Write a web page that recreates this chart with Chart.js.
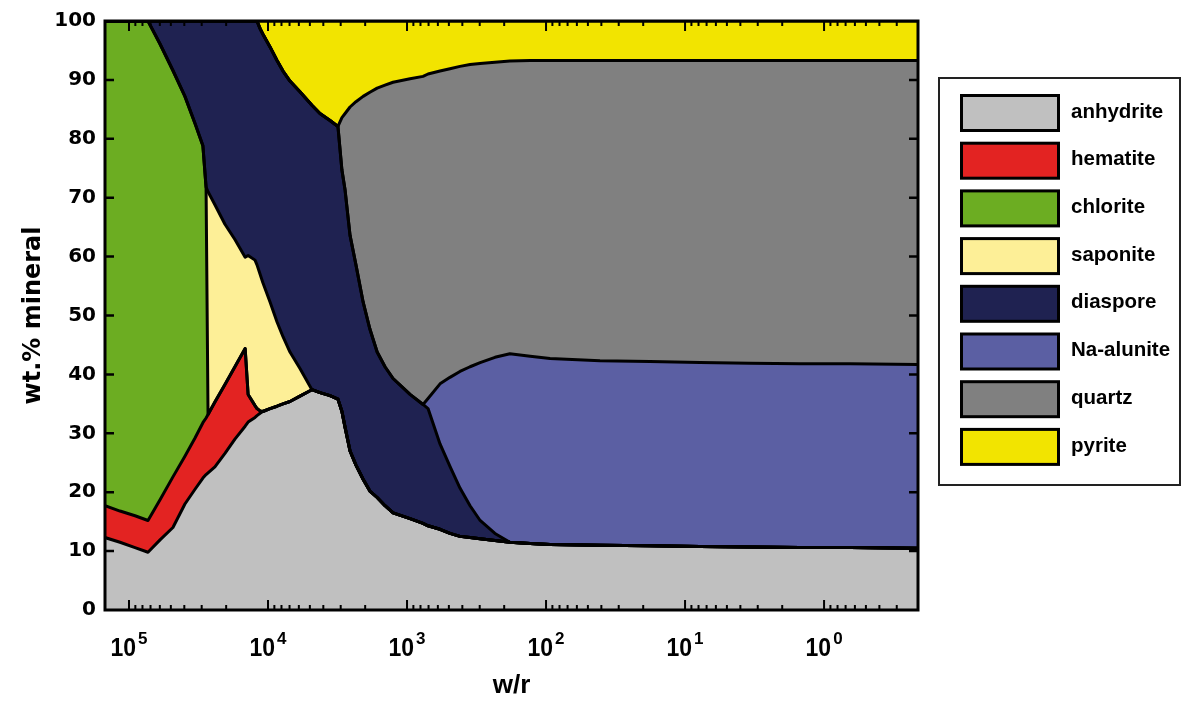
<!DOCTYPE html>
<html>
<head>
<meta charset="utf-8">
<script src="https://cdn.jsdelivr.net/npm/chart.js@4.4.1/dist/chart.umd.min.js"></script>
<style>
  html, body { margin: 0; padding: 0; background: #fff; }
  canvas { display: block; }
</style>
</head>
<body>
<canvas id="c" width="1188" height="701"></canvas>
<script>
// w/r values (x axis, logarithmic, reversed)
const wr = [1.488e5, 1.161e5, 9.05e4, 7.30e4, 5.98e4, 4.83e4, 3.96e4, 3.35e4, 2.94e4, 2.79e4,
            2.70e4, 2.41e4, 2.04e4, 1.73e4, 1.46e4, 1.39e4, 1.24e4, 1.20e4, 1.14e4, 1.09e4,
            9670, 8610, 7800, 6950, 5890, 4830, 4230, 3580, 3140, 2940,
            2790, 2570, 2330, 2070, 1850, 1640, 1440, 1260, 951, 767,
            706, 579, 491, 416, 352, 298, 233, 182, 130, 93.6,
            40.9, 17.9, 7.80, 3.41, 1.49, 0.650, 0.211];

// Cumulative upper boundary of each mineral (wt.%)
const anhydriteTop = [12.3, 11.5, 10.6, 9.8, 11.9, 14.0, 18.0, 20.5, 22.4, 23.0,
                      23.3, 24.3, 26.6, 29.0, 31.2, 31.9, 32.7, 33.0, 33.4, 33.7,
                      34.2, 34.6, 35.0, 35.4, 36.3, 37.4, 36.9, 36.4, 35.8, 33.7,
                      31.0, 27.0, 24.6, 22.2, 20.2, 19.1, 17.7, 16.5, 15.5, 14.7,
                      14.3, 13.7, 13.0, 12.5, 12.3, 12.1, 11.8, 11.5, 11.3, 11.1,
                      11.0, 10.9, 10.8, 10.7, 10.6, 10.6, 10.5];
const hematiteTop  = [17.7, 16.8, 16.0, 15.2, 18.7, 22.6, 26.1, 29.2, 31.8, 32.6,
                      33.2, 35.3, 38.3, 41.3, 44.4, 36.6, 34.7, 34.2, 33.8, 33.7,
                      34.2, 34.6, 35.0, 35.4, 36.3, 37.4, 36.9, 36.4, 35.8, 33.7,
                      31.0, 27.0, 24.6, 22.2, 20.2, 19.1, 17.7, 16.5, 15.5, 14.7,
                      14.3, 13.7, 13.0, 12.5, 12.3, 12.1, 11.8, 11.5, 11.3, 11.1,
                      11.0, 10.9, 10.8, 10.7, 10.6, 10.6, 10.5];
const chloriteTop  = [100, 100, 100, 100, 96.1, 91.6, 87.2, 82.6, 78.8, 71.8,
                      33.2, 35.3, 38.3, 41.3, 44.4, 36.6, 34.7, 34.2, 33.8, 33.7,
                      34.2, 34.6, 35.0, 35.4, 36.3, 37.4, 36.9, 36.4, 35.8, 33.7,
                      31.0, 27.0, 24.6, 22.2, 20.2, 19.1, 17.7, 16.5, 15.5, 14.7,
                      14.3, 13.7, 13.0, 12.5, 12.3, 12.1, 11.8, 11.5, 11.3, 11.1,
                      11.0, 10.9, 10.8, 10.7, 10.6, 10.6, 10.5];
const saponiteTop  = [100, 100, 100, 100, 96.1, 91.6, 87.2, 82.6, 78.8, 71.8,
                      71.0, 68.8, 65.5, 62.9, 59.9, 60.2, 59.4, 58.6, 57.0, 55.6,
                      52.3, 48.9, 46.4, 43.8, 41.0, 37.4, 36.9, 36.4, 35.8, 33.7,
                      31.0, 27.0, 24.6, 22.2, 20.2, 19.1, 17.7, 16.5, 15.5, 14.7,
                      14.3, 13.7, 13.0, 12.5, 12.3, 12.1, 11.8, 11.5, 11.3, 11.1,
                      11.0, 10.9, 10.8, 10.7, 10.6, 10.6, 10.5];
const diasporeTop  = [100, 100, 100, 100, 100, 100, 100, 100, 100, 100,
                      100, 100, 100, 100, 100, 100, 100, 100, 98.7, 97.8,
                      95.6, 93.3, 91.5, 89.8, 88.0, 85.7, 84.3, 83.1, 82.1, 74.7,
                      71.3, 63.6, 58.6, 52.3, 47.7, 43.8, 41.3, 39.3, 36.6, 34.9,
                      34.2, 28.2, 24.4, 20.7, 17.7, 15.2, 13.0, 11.5, 11.3, 11.1,
                      11.0, 10.9, 10.8, 10.7, 10.6, 10.6, 10.5];
const naAluniteTop = [100, 100, 100, 100, 100, 100, 100, 100, 100, 100,
                      100, 100, 100, 100, 100, 100, 100, 100, 98.7, 97.8,
                      95.6, 93.3, 91.5, 89.8, 88.0, 85.7, 84.3, 83.1, 82.1, 74.7,
                      71.3, 63.6, 58.6, 52.3, 47.7, 43.8, 41.3, 39.3, 36.6, 34.9,
                      35.9, 38.4, 39.5, 40.5, 41.3, 42.0, 42.9, 43.5, 43.1, 42.7,
                      42.3, 42.2, 42.0, 41.9, 41.8, 41.8, 41.7];
const quartzTop    = [100, 100, 100, 100, 100, 100, 100, 100, 100, 100,
                      100, 100, 100, 100, 100, 100, 100, 100, 98.7, 97.8,
                      95.6, 93.3, 91.5, 89.8, 88.0, 85.7, 84.3, 83.1, 82.1, 83.6,
                      84.3, 85.4, 86.3, 87.2, 87.9, 88.6, 89.1, 89.6, 90.2, 90.6,
                      91.0, 91.5, 91.9, 92.3, 92.6, 92.8, 93.0, 93.2, 93.3, 93.3,
                      93.3, 93.3, 93.3, 93.3, 93.3, 93.3, 93.3];
const pyriteTop    = [100, 100, 100, 100, 100, 100, 100, 100, 100, 100,
                      100, 100, 100, 100, 100, 100, 100, 100, 100, 100,
                      100, 100, 100, 100, 100, 100, 100, 100, 100, 100,
                      100, 100, 100, 100, 100, 100, 100, 100, 100, 100,
                      100, 100, 100, 100, 100, 100, 100, 100, 100, 100,
                      100, 100, 100, 100, 100, 100, 100];

const mineralNames = ['anhydrite', 'hematite', 'chlorite', 'saponite', 'diaspore', 'Na-alunite', 'quartz', 'pyrite'];
const mineralColors = ['#c0c0c0', '#e32322', '#6cad22', '#fdef97', '#1f2251', '#5b5fa3', '#808080', '#f2e400'];
const boundaries = [anhydriteTop, hematiteTop, chloriteTop, saponiteTop, diasporeTop, naAluniteTop, quartzTop, pyriteTop];

const xMajorTicks = [1e5, 1e4, 1e3, 1e2, 1e1, 1e0];
const xMajorExponents = ['5', '4', '3', '2', '1', '0'];
const xMin = 0.211, xMax = 1.488e5;

const datasets = boundaries.map((arr, i) => ({
  label: mineralNames[i],
  data: wr.map((x, j) => ({ x: x, y: arr[j] })),
  backgroundColor: mineralColors[i],
  borderColor: '#000',
  borderWidth: 3,
  borderJoinStyle: 'round',
  pointRadius: 0,
  tension: 0,
  fill: i === 0 ? 'origin' : '-1'
}));

const decorPlugin = {
  id: 'decor',
  afterDatasetsDraw(chart) {
    const ctx = chart.ctx;
    const a = chart.chartArea;
    const xs = chart.scales.x, ys = chart.scales.y;
    ctx.save();
    ctx.strokeStyle = '#000';
    ctx.lineCap = 'butt';
    // y ticks (left and right, inside)
    ctx.lineWidth = 2.5;
    for (let v = 10; v < 100; v += 10) {
      const y = ys.getPixelForValue(v);
      ctx.beginPath();
      ctx.moveTo(a.left, y); ctx.lineTo(a.left + 9, y);
      ctx.moveTo(a.right, y); ctx.lineTo(a.right - 9, y);
      ctx.stroke();
    }
    // x ticks (log: majors and minors, top and bottom, inside)
    ctx.lineWidth = 2;
    for (let e = -1; e <= 5; e++) {
      for (let k = 1; k <= 9; k++) {
        const v = k * Math.pow(10, e);
        if (v < xMin || v > xMax) continue;
        const x = xs.getPixelForValue(v);
        const len = k === 1 ? 10 : 5;
        ctx.beginPath();
        ctx.moveTo(x, a.bottom); ctx.lineTo(x, a.bottom - len);
        ctx.moveTo(x, a.top); ctx.lineTo(x, a.top + len);
        ctx.stroke();
      }
    }
    // frame
    ctx.lineWidth = 3;
    ctx.strokeRect(a.left, a.top, a.right - a.left, a.bottom - a.top);

    // x tick labels: 10^n
    ctx.fillStyle = '#000';
    ctx.textBaseline = 'alphabetic';
    xMajorTicks.forEach((v, i) => {
      const x = xs.getPixelForValue(v);
      const sx = 0.92;
      ctx.font = 'bold 25px "Liberation Sans", Arial, sans-serif';
      const wBase = ctx.measureText('10').width * sx;
      ctx.font = 'bold 17px "Liberation Sans", Arial, sans-serif';
      const wExp = ctx.measureText(xMajorExponents[i]).width;
      const total = wBase + 2 + wExp;
      const left = x - total / 2;
      ctx.save();
      ctx.translate(left, 656);
      ctx.scale(sx, 1);
      ctx.font = 'bold 25px "Liberation Sans", Arial, sans-serif';
      ctx.textAlign = 'left';
      ctx.fillText('10', 0, 0);
      ctx.restore();
      ctx.font = 'bold 17px "Liberation Sans", Arial, sans-serif';
      ctx.textAlign = 'left';
      ctx.fillText(xMajorExponents[i], left + wBase + 2, 644);
    });

    // legend
    const lx = 939, ly = 78, lw = 241, lh = 407;
    ctx.lineWidth = 2;
    ctx.strokeStyle = '#222';
    ctx.strokeRect(lx, ly, lw, lh);
    chart.data.datasets.forEach((ds, i) => {
      const top = 94 + i * 47.7;
      ctx.fillStyle = ds.backgroundColor;
      ctx.fillRect(961.5, top + 1.5, 97, 35);
      ctx.lineWidth = 3;
      ctx.strokeStyle = '#000';
      ctx.strokeRect(961.5, top + 1.5, 97, 35);
      ctx.fillStyle = '#000';
      ctx.font = 'bold 20.5px "Liberation Sans", Arial, sans-serif';
      ctx.textAlign = 'left';
      ctx.textBaseline = 'middle';
      ctx.fillText(ds.label, 1071, top + 18);
    });
    ctx.restore();
  }
};

new Chart(document.getElementById('c'), {
  type: 'line',
  data: { datasets: datasets },
  options: {
    responsive: false,
    animation: false,
    devicePixelRatio: 1,
    layout: { padding: { left: 0, right: 270, top: 17, bottom: 0 } },
    plugins: {
      legend: { display: false },
      tooltip: { enabled: false },
      filler: { drawTime: 'beforeDatasetsDraw', propagate: false }
    },
    scales: {
      x: {
        type: 'logarithmic',
        reverse: true,
        min: xMin,
        max: xMax,
        ticks: { display: false },
        grid: { display: false, drawTicks: false },
        border: { display: false },
        title: {
          display: true,
          text: 'w/r',
          color: '#000',
          font: { family: '"Liberation Sans", Arial, sans-serif', weight: 'bold', size: 26 },
          padding: { top: 0, bottom: 0 }
        },
        afterFit: (s) => { s.height = 91; }
      },
      y: {
        type: 'linear',
        min: 0,
        max: 100,
        ticks: {
          stepSize: 10,
          color: '#000',
          padding: 9,
          font: { family: '"DejaVu Sans", sans-serif', weight: 'bold', size: 20 }
        },
        grid: { display: false, drawTicks: false },
        border: { display: false },
        title: {
          display: true,
          text: 'wt.% mineral',
          color: '#000',
          font: { family: '"DejaVu Sans", sans-serif', weight: 'bold', size: 24 },
          padding: { top: 19, bottom: 0 }
        },
        afterFit: (s) => { s.width = 105; }
      }
    }
  },
  plugins: [decorPlugin]
});
</script>
</body>
</html>
